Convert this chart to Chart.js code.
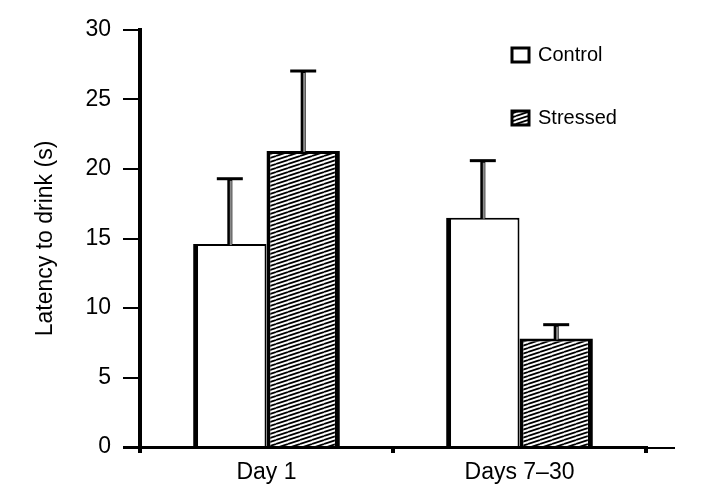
<!DOCTYPE html>
<html>
<head>
<meta charset="utf-8">
<script src="https://cdn.jsdelivr.net/npm/chart.js@4.4.1/dist/chart.umd.min.js"></script>
<style>
  html, body { margin: 0; padding: 0; background: #fff; }
  #wrap { width: 706px; height: 500px; }
</style>
</head>
<body>
<div id="wrap"><canvas id="chart" width="706" height="500"></canvas></div>
<script>
// values
const categories = ["Day 1", "Days 7\u201330"];
const controlMeans = [14.6, 16.5];
const controlErrors = [4.7, 4.1];
const stressedMeans = [21.3, 7.8];
const stressedErrors = [5.75, 1.0];
const yMin = 0, yMax = 30, yStep = 5;

const FONT = "'Liberation Sans', Arial, sans-serif";
const canvas = document.getElementById("chart");
const ctx = canvas.getContext("2d");

// shallow diagonal hatch for the stressed bars
function makeHatch() {
  const c = document.createElement("canvas");
  c.width = 12; c.height = 4;
  const g = c.getContext("2d");
  g.fillStyle = "#fff";
  g.fillRect(0, 0, 12, 4);
  g.strokeStyle = "#000";
  g.lineWidth = 1.8;
  [-4, 0, 4].forEach(off => {
    g.beginPath();
    g.moveTo(0, 4 + off);
    g.lineTo(12, off);
    g.stroke();
  });
  return ctx.createPattern(c, "repeat");
}
const hatch = makeHatch();

// error bars (upper only) on top of each bar
const errorBars = {
  id: "errorBars",
  afterDatasetsDraw(chart) {
    const c = chart.ctx;
    const y = chart.scales.y;
    chart.data.datasets.forEach((ds, i) => {
      chart.getDatasetMeta(i).data.forEach((bar, j) => {
        const top = y.getPixelForValue(ds.data[j] + ds.errors[j]);
        const base = bar.y + 1;
        c.save();
        c.lineCap = "butt";
        c.strokeStyle = "#000";
        c.lineWidth = 5;
        c.beginPath(); c.moveTo(bar.x, base); c.lineTo(bar.x, top); c.stroke();
        c.strokeStyle = "#8a8a8a";
        c.lineWidth = 2;
        c.beginPath(); c.moveTo(bar.x + 1, base); c.lineTo(bar.x + 1, top + 2); c.stroke();
        c.strokeStyle = "#000";
        c.lineWidth = 3;
        c.beginPath(); c.moveTo(bar.x - 13, top); c.lineTo(bar.x + 13, top); c.stroke();
        c.restore();
      });
    });
  }
};

// axis lines run a little past the plot area
const axisExtend = {
  id: "axisExtend",
  afterDraw(chart) {
    const c = chart.ctx;
    const a = chart.chartArea;
    c.save();
    c.strokeStyle = "#000";
    c.lineWidth = 2;
    c.beginPath(); c.moveTo(a.left - 17, a.bottom + 1); c.lineTo(a.right + 29, a.bottom + 1); c.stroke();
    c.lineWidth = 4;
    c.beginPath(); c.moveTo(a.left, a.top - 1); c.lineTo(a.left, a.bottom + 6); c.stroke();
    c.restore();
  }
};

// legend in the upper right
const legendBoxes = {
  id: "legendBoxes",
  afterDraw(chart) {
    const c = chart.ctx;
    const rows = [55, 118];
    chart.data.datasets.forEach((ds, i) => {
      const cy = rows[i];
      c.save();
      c.fillStyle = ds.backgroundColor;
      c.fillRect(512, cy - 7, 17, 14);
      c.strokeStyle = "#000";
      c.lineWidth = 3;
      c.strokeRect(512, cy - 7, 17, 14);
      c.fillStyle = "#000";
      c.font = "20px " + FONT;
      c.textBaseline = "middle";
      c.fillText(ds.label, 538, cy);
      c.restore();
    });
  }
};

new Chart(ctx, {
  type: "bar",
  data: {
    labels: categories,
    datasets: [
      {
        label: "Control",
        data: controlMeans,
        errors: controlErrors,
        backgroundColor: "#fff",
        borderColor: "#000",
        borderWidth: { left: 5, right: 2, top: 2, bottom: 0 },
        borderSkipped: "start"
      },
      {
        label: "Stressed",
        data: stressedMeans,
        errors: stressedErrors,
        backgroundColor: hatch,
        borderColor: "#000",
        borderWidth: { left: 4, right: 5, top: 3, bottom: 0 },
        borderSkipped: "start"
      }
    ]
  },
  options: {
    responsive: false,
    animation: false,
    events: [],
    layout: { padding: { left: 0, top: 30, right: 60, bottom: 0 } },
    categoryPercentage: 0.58,
    barPercentage: 1.0,
    plugins: {
      legend: { display: false },
      tooltip: { enabled: false }
    },
    scales: {
      x: {
        offset: true,
        grid: {
          display: true, drawOnChartArea: false, drawTicks: true,
          tickLength: 6, lineWidth: 4, color: "#000", offset: true
        },
        border: { display: true, color: "#000", width: 2 },
        ticks: { color: "#000", font: { family: FONT, size: 23 }, padding: 6 },
        afterFit(scale) { scale.height = 53; }
      },
      y: {
        min: yMin,
        max: yMax,
        grid: {
          display: true, drawOnChartArea: false, drawTicks: true,
          tickLength: 17, lineWidth: 2, color: "#000"
        },
        border: { display: true, color: "#000", width: 4 },
        ticks: { stepSize: yStep, color: "#000", font: { family: FONT, size: 23 }, padding: 12 },
        title: {
          display: true,
          text: "Latency to drink (s)",
          color: "#000",
          font: { family: FONT, size: 23 },
          padding: { top: 32, bottom: 0 }
        },
        afterFit(scale) { scale.width = 140; }
      }
    }
  },
  plugins: [errorBars, axisExtend, legendBoxes]
});
</script>
</body>
</html>
